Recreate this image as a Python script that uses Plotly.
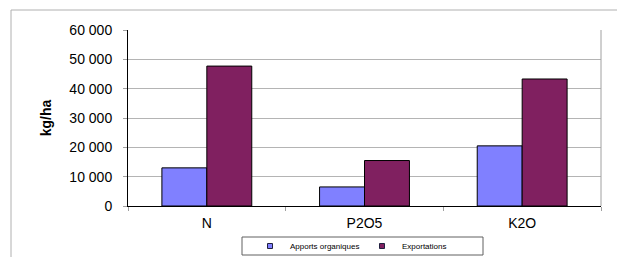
import plotly.graph_objects as go

categories = ["N", "P2O5", "K2O"]
apports = [13000, 6500, 20500]
exportations = [47700, 15500, 43300]
series_names = ["Apports organiques", "Exportations"]
y_tickvals = [0, 10000, 20000, 30000, 40000, 50000, 60000]
y_ticktext = ["0", "10 000", "20 000", "30 000", "40 000", "50 000", "60 000"]

FONT = "Liberation Sans, Arial, sans-serif"
C1 = "#8080FF"
C2 = "#802060"

L, R, T, B = 128, 16, 30, 51
PW, PH = 617 - L - R, 257 - T - B


def px_x(p):
    return (p - L) / PW


def px_y(p):
    return (257 - B - p) / PH


fig = go.Figure()
fig.add_trace(go.Bar(x=categories, y=apports, name=series_names[0],
                     marker=dict(color=C1, line=dict(color="black", width=1)),
                     showlegend=False))
fig.add_trace(go.Bar(x=categories, y=exportations, name=series_names[1],
                     marker=dict(color=C2, line=dict(color="black", width=1)),
                     showlegend=False))
# legend proxies
for name, c in zip(series_names, [C1, C2]):
    fig.add_trace(go.Scatter(x=[None], y=[None], mode="markers", name=name,
                             marker=dict(symbol="square", size=5, color=c,
                                         line=dict(color="#202040", width=1))))

fig.update_layout(
    width=617, height=257,
    margin=dict(l=L, r=R, t=T, b=B, autoexpand=False),
    paper_bgcolor="white", plot_bgcolor="white",
    font=dict(family=FONT, color="black", size=14),
    barmode="group", bargap=0.43, bargroupgap=0,
    showlegend=True,
    legend=dict(orientation="h", x=px_x(250), y=px_y(246), xanchor="left", yanchor="middle",
                bgcolor="rgba(0,0,0,0)", borderwidth=0,
                font=dict(size=8, family=FONT),
                entrywidth=67, itemwidth=30, tracegroupgap=0),
    shapes=[
        dict(type="rect", xref="paper", yref="paper",
             x0=px_x(11), x1=px_x(640), y0=px_y(290), y1=px_y(10),
             line=dict(color="#b0b0b0", width=1), fillcolor="rgba(0,0,0,0)", layer="below"),
        dict(type="line", xref="paper", yref="paper", x0=1, x1=1, y0=0, y1=1,
             line=dict(color="#a0a0a0", width=1)),
        dict(type="rect", xref="paper", yref="paper",
             x0=px_x(242), x1=px_x(483), y0=px_y(255), y1=px_y(237),
             line=dict(color="#606060", width=1), fillcolor="rgba(0,0,0,0)"),
    ],
)
fig.update_xaxes(showline=True, linecolor="black", linewidth=1,
                 ticks="outside", tickson="boundaries", ticklen=4, tickcolor="#a0a0a0",
                 ticklabelstandoff=4,
                 showgrid=False, tickfont=dict(size=14))
fig.update_yaxes(range=[0, 60000], tickvals=y_tickvals, ticktext=y_ticktext,
                 showline=True, linecolor="black", linewidth=1,
                 ticks="outside", ticklen=4, tickcolor="#a0a0a0",
                 ticklabelstandoff=8,
                 showgrid=True, gridcolor="#b4b4b4", gridwidth=1,
                 zeroline=False, tickfont=dict(size=14),
                 title=dict(text="<b>kg/ha</b>", font=dict(size=14), standoff=14))

fig.write_html("out.html", config={"displayModeBar": False},
               post_script="document.body.style.margin='0';document.body.style.overflow='hidden';")
